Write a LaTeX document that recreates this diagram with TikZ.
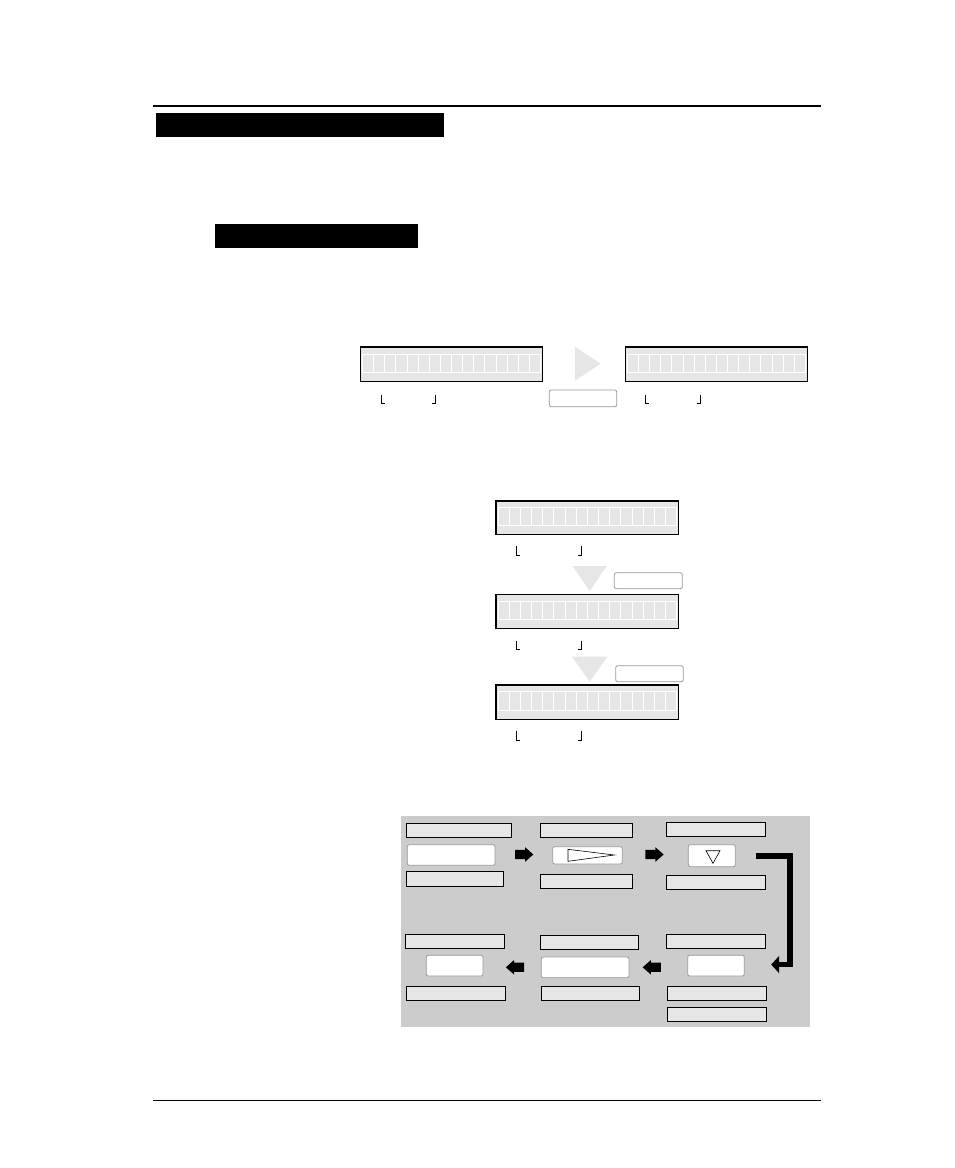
\documentclass[tikz,border=0pt]{standalone}
\usetikzlibrary{arrows.meta,calc}
\definecolor{lcdgray}{HTML}{E6E6E6}
\definecolor{panelgray}{HTML}{CCCCCC}
\definecolor{trigray}{HTML}{E6E6E6}
\definecolor{rbord}{HTML}{999999}
\newcommand\mybox[6]{\node[#1, minimum width={(#5)-(#3)}, minimum height={(#6)-(#4)}] (#2) at ({((#3)+(#5))/2},{((#4)+(#6))/2}) {};}
\newcommand\mylcd[5]{%
  \node[lcdbox, minimum width={(#4)-(#2)}, minimum height={(#5)-(#3)}] (#1) at ({((#2)+(#4))/2},{((#3)+(#5))/2}) {};
  \foreach \i in {0,...,15}{%
    \draw[cell] ({#2+2+\i*((#4)-(#2)-4)/16},{#3+0.2*((#5)-(#3))}) rectangle ++({((#4)-(#2)-4)/16},{0.53*((#5)-(#3))});
  }%
}
\newcommand\mybrk[4]{% x-left, x-right, y1, y2
  \draw[brk] (#1,#3) |- ({#1+3.5},#4);
  \draw[brk] (#2,#3) |- ({#2-3.5},#4);
}
% block arrow: name, centre x, centre y, direction (1 right, -1 left)
\newcommand\myblk[4]{%
  \coordinate (#1) at (#2,#3);
  \fill[black] ($(#1)+({-9.15*#4},-4.6)$) -- ($(#1)+({0.85*#4},-4.6)$) -- ($(#1)+({0.85*#4},-7.3)$)
    -- ($(#1)+({9.15*#4},0)$) -- ($(#1)+({0.85*#4},7.3)$) -- ($(#1)+({0.85*#4},4.6)$)
    -- ($(#1)+({-9.15*#4},4.6)$) -- cycle;
}
\begin{document}
\begin{tikzpicture}[x=1pt,y=-1pt,
  lbl/.style={draw=black, fill=lcdgray, line width=1pt, inner sep=0pt},
  btn/.style={draw=rbord, fill=white, rounded corners=2pt, line width=0.8pt, inner sep=0pt},
  lcdbox/.style={draw=black, fill=lcdgray, line width=1.3pt, inner sep=0pt},
  cell/.style={draw=white, fill=lcdgray, line width=0.8pt},
  blk/.style={fill=black, draw=none, inner sep=0pt},
  brk/.style={draw=black, line width=1pt},
  trif/.style={fill=trigray, draw=none},
  panelbg/.style={fill=panelgray, draw=none, inner sep=0pt}
]
\useasboundingbox[fill=white] (0,0) rectangle (954,1168);

% rules and header bars
\draw[line width=2pt] (152.7,106) -- (820.5,106);
\draw[line width=1pt] (152.5,1100.5) -- (820.8,1100.5);
\mybox{blk}{H1}{156}{113.3}{444}{136.7}
\mybox{blk}{H2}{215}{224.3}{418}{247.7}

% first LCD pair
\mylcd{LCDa}{360.5}{347}{542.5}{381.5}
\mylcd{LCDb}{625.3}{347}{807.3}{381.5}
\fill[trif] (575,346.7) -- (575,380.7) -- (600.7,363.7) -- cycle;
\mybox{btn}{S0}{549.3}{390}{616.7}{406.7}
\mybrk{381}{435.7}{395}{403.3}
\mybrk{645}{700}{395}{403.3}

% vertical LCD stack
\mylcd{LCDc}{496}{501}{678.7}{534.3}
\mylcd{LCDd}{496}{594.3}{678.7}{628.3}
\mylcd{LCDe}{496}{685}{678.7}{719.3}
\mybrk{516}{581}{546}{555}
\mybrk{516}{581}{640.7}{649.3}
\mybrk{516}{581}{730.7}{740}
\fill[trif] (572.7,566) -- (606.7,566) -- (589.7,591) -- cycle;
\fill[trif] (572,656.7) -- (607.3,656.7) -- (589.7,681.7) -- cycle;
\mybox{btn}{S1}{614.3}{572.7}{682.3}{588.7}
\mybox{btn}{S2}{615.7}{665.7}{683.3}{681.7}

% panel
\mybox{panelbg}{P}{401}{816}{809.5}{1027}

\mybox{lbl}{L1}{406.7}{823.3}{511.3}{837.3}
\mybox{lbl}{M1}{540.3}{823.3}{632.3}{837.3}
\mybox{lbl}{R1}{666.7}{822.3}{765.3}{836.3}
\mybox{btn}{BL1}{407.3}{844.7}{495}{865.3}
\mybox{btn}{BM1}{552.7}{846.7}{622.3}{864}
\mybox{btn}{BR1}{688.3}{844.7}{735.3}{866.7}
\draw[line width=0.6pt] (568,849.3) -- (568,861.3) -- (614.3,855) -- cycle;
\draw[line width=0.6pt] (706,850.7) -- (720,850.7) -- (713,863.3) -- cycle;
\mybox{lbl}{L1b}{406.7}{871.3}{503.3}{886.3}
\mybox{lbl}{M1b}{540.3}{874.3}{632.3}{888.7}
\mybox{lbl}{R1b}{666.7}{875.3}{765.3}{889.3}

\mybox{lbl}{L2}{405.7}{934.3}{504.7}{948.3}
\mybox{lbl}{M2}{540.3}{935.7}{638.3}{949.7}
\mybox{lbl}{R2}{666.7}{934.3}{765.3}{948.3}
\mybox{btn}{BL2}{426.3}{955.3}{483}{976}
\mybox{btn}{BM2}{541.3}{957}{629}{977.7}
\mybox{btn}{BR2}{687.7}{955.3}{744.3}{976}
\mybox{lbl}{L2b}{406.7}{986.3}{505.3}{1000.3}
\mybox{lbl}{M2b}{541.3}{986.3}{639.3}{1000.3}
\mybox{lbl}{R2b}{667.7}{986.3}{766.3}{1000.3}
\mybox{lbl}{R2c}{667.7}{1007.7}{766.3}{1021.3}

% block arrows
\myblk{A1}{524.2}{854.5}{1}
\myblk{A2}{654.5}{854.5}{1}
\myblk{A3}{515}{967.3}{-1}
\myblk{A4}{651.8}{967.3}{-1}

% bent connector
\draw[line width=5.5pt, -{Triangle[length=8pt,width=17pt]}]
  ([xshift=20.2pt,yshift=-0.3pt]BR1.east) -- ++(34,0) |- ([xshift=26.5pt,yshift=1.1pt]BR2.east);
\end{tikzpicture}
\end{document}
